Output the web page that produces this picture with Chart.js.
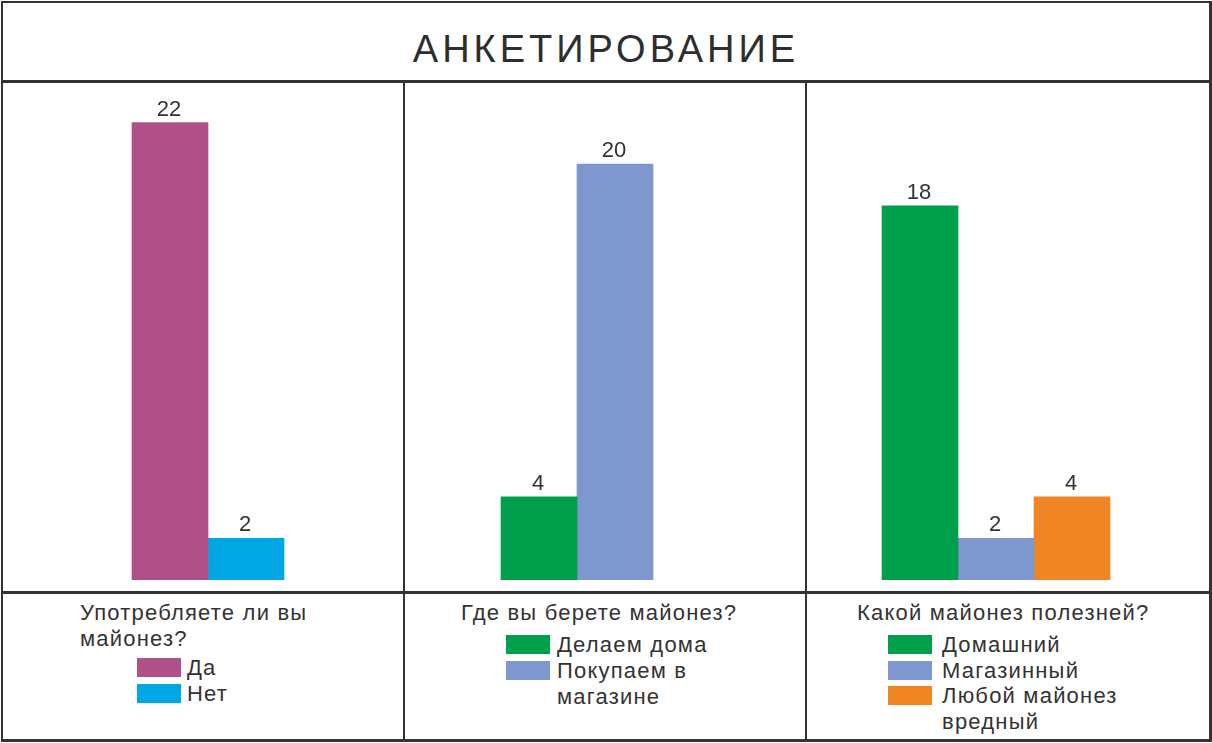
<!DOCTYPE html>
<html>
<head>
<meta charset="utf-8">
<script src="https://cdn.jsdelivr.net/npm/chart.js@4"></script>
<style>
  html, body { margin: 0; padding: 0; background: #fff; }
  body { width: 1212px; height: 743px; position: relative; overflow: hidden;
         font-family: "Liberation Sans", Arial, sans-serif; color: #333; }
  .line { position: absolute; background: #333; z-index: 5; }
  .title { position: absolute; left: 0; width: 1212px; top: 30px; text-align: center;
           font-size: 38px; line-height: 38px; letter-spacing: 4px; color: #2e2e2e; }
  canvas.chart { position: absolute; z-index: 1; }
  .legend { position: absolute; font-size: 22px; line-height: 26px; letter-spacing: 1.2px; color: #333; z-index: 2; }
  .q { position: absolute; white-space: normal; }
  .sw { position: absolute; width: 44px; height: 19px; }
  .lab { position: absolute; }
</style>
</head>
<body>
<div class="title" id="title"></div>

<!-- frame -->
<div class="line" style="left:1px;top:1px;width:1211px;height:2px;"></div>
<div class="line" style="left:1px;top:1px;width:2px;height:741px;"></div>
<div class="line" style="left:1209px;top:1px;width:3px;height:741px;"></div>
<div class="line" style="left:1px;top:739px;width:1211px;height:3px;"></div>
<div class="line" style="left:1px;top:80px;width:1211px;height:3px;"></div>
<div class="line" style="left:1px;top:591px;width:1211px;height:3px;"></div>
<div class="line" style="left:403px;top:80px;width:2px;height:661px;"></div>
<div class="line" style="left:805px;top:80px;width:2px;height:661px;"></div>

<canvas class="chart" id="c1" style="left:3px;top:81px;" width="400" height="500"></canvas>
<canvas class="chart" id="c2" style="left:405px;top:81px;" width="400" height="500"></canvas>
<canvas class="chart" id="c3" style="left:807px;top:81px;" width="402" height="500"></canvas>

<div id="legends"></div>

<script>
// ---- data ----
const mainTitle = "АНКЕТИРОВАНИЕ";

const q1 = "Употребляете ли вы майонез?";
const q1Labels = ["Да", "Нет"];
const q1Values = [22, 2];
const q1Colors = ["#B05089", "#00A7E5"];

const q2 = "Где вы берете майонез?";
const q2Labels = ["Делаем дома", "Покупаем в магазине"];
const q2Values = [4, 20];
const q2Colors = ["#009F4B", "#7E97CE"];

const q3 = "Какой майонез полезней?";
const q3Labels = ["Домашний", "Магазинный", "Любой майонез вредный"];
const q3Values = [18, 2, 4];
const q3Colors = ["#009F4B", "#7E97CE", "#EF8623"];

const yMax = 24;

document.getElementById('title').textContent = mainTitle;

const valueLabels = {
  id: 'valueLabels',
  afterDatasetsDraw(chart) {
    const ctx = chart.ctx;
    ctx.save();
    ctx.font = '22px "Liberation Sans", Arial, sans-serif';
    ctx.fillStyle = '#333';
    ctx.textAlign = 'center';
    ctx.textBaseline = 'alphabetic';
    chart.data.datasets.forEach((ds, i) => {
      const meta = chart.getDatasetMeta(i);
      meta.data.forEach((bar, j) => {
        ctx.fillText(String(ds.data[j]), bar.x - 1, bar.y - 7);
      });
    });
    ctx.restore();
  }
};

function makeChart(id, question, labels, values, colors, padding) {
  return new Chart(document.getElementById(id), {
    type: 'bar',
    data: {
      labels: [question],
      datasets: labels.map((l, i) => ({
        label: l,
        data: [values[i]],
        backgroundColor: colors[i],
        borderWidth: 0,
        barThickness: 76
      }))
    },
    options: {
      responsive: false,
      animation: false,
      layout: { padding: padding },
      plugins: { legend: { display: false }, title: { display: false }, tooltip: { enabled: false } },
      scales: {
        x: { display: false },
        y: { display: false, min: 0, max: yMax }
      }
    },
    plugins: [valueLabels]
  });
}

makeChart('c1', q1, q1Labels, q1Values, q1Colors, { left: 10, right: 0, top: 0, bottom: 1 });
makeChart('c2', q2, q2Labels, q2Values, q2Colors, { left: 0, right: 56, top: 0, bottom: 1 });
makeChart('c3', q3, q3Labels, q3Values, q3Colors, { left: 0, right: 24, top: 0, bottom: 1 });

// ---- HTML legends (question + swatches) ----
function makeLegend(question, labels, colors, cfg) {
  const root = document.getElementById('legends');
  const q = document.createElement('div');
  q.className = 'legend q';
  q.style.left = cfg.qx + 'px';
  q.style.top = cfg.qy + 'px';
  q.style.width = cfg.qw + 'px';
  q.textContent = question;
  root.appendChild(q);
  labels.forEach((l, i) => {
    const top = cfg.iy[i];
    const sw = document.createElement('div');
    sw.className = 'legend sw';
    sw.style.left = cfg.sx + 'px';
    sw.style.top = (top + 3) + 'px';
    sw.style.background = colors[i];
    root.appendChild(sw);
    const lab = document.createElement('div');
    lab.className = 'legend lab';
    lab.style.left = cfg.lx + 'px';
    lab.style.top = top + 'px';
    lab.style.width = cfg.lw + 'px';
    lab.textContent = l;
    root.appendChild(lab);
  });
}

makeLegend(q1, q1Labels, q1Colors, { qx: 80, qy: 600, qw: 260, sx: 137, iy: [655, 681], lx: 187, lw: 150 });
makeLegend(q2, q2Labels, q2Colors, { qx: 461, qy: 600, qw: 330, sx: 506, iy: [632, 658], lx: 557, lw: 170 });
makeLegend(q3, q3Labels, q3Colors, { qx: 857, qy: 600, qw: 345, sx: 888, iy: [632, 658, 683], lx: 942, lw: 200 });
</script>
</body>
</html>
